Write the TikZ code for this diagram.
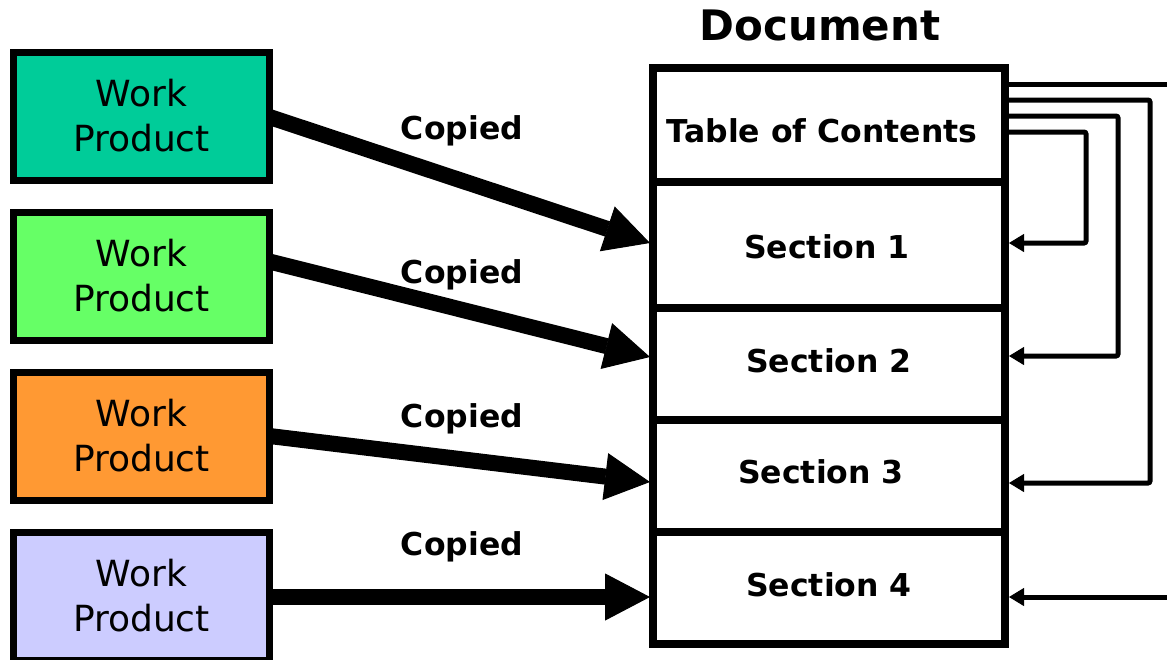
\documentclass[tikz,border=0pt]{standalone}
\usepackage{fontspec}
\setmainfont{DejaVu Sans}
\usetikzlibrary{arrows.meta,calc}
\definecolor{wpA}{RGB}{0,204,153}
\definecolor{wpB}{RGB}{102,255,102}
\definecolor{wpC}{RGB}{255,153,51}
\definecolor{wpD}{RGB}{204,204,255}
\begin{document}
\begin{tikzpicture}[x=1pt,y=-1pt,
  wpbox/.style={draw=black, line width=7pt, outer sep=0pt, minimum width=256pt, minimum height=128pt, inner sep=0pt, align=center, font=\fontsize{36}{45}\selectfont},
  docbox/.style={draw=black, line width=8pt, outer sep=0pt, minimum width=352pt, inner sep=0pt},
  copyarrow/.style={line width=16pt, -{Triangle[length=45pt,width=47pt,line width=1pt]}},
  lbl/.style={font=\bfseries\fontsize{31.5}{36}\selectfont},
  linkline/.style={line width=5pt},
  linkarrow/.style={linkline, rounded corners=2pt, -{Triangle[length=15pt,width=18pt,line width=1pt]}}
]
\useasboundingbox (0,0) rectangle (1167,659);
% work products
\node[wpbox, fill=wpA] (wp1) at (141.5,116) {Work\\Product};
\node[wpbox, fill=wpB] (wp2) at (141.5,276) {Work\\Product};
\node[wpbox, fill=wpC] (wp3) at (141.5,436) {Work\\Product};
\node[wpbox, fill=wpD] (wp4) at (141.5,596) {Work\\Product};
% document
\node[font=\bfseries\fontsize{42}{48}\selectfont] (doc) at (820,25) {Document};
\node[docbox, minimum height=114pt, label={[lbl, yshift=-6pt, xshift=-7pt]center:Table of Contents}] (toc) at (829,125) {};
\node[docbox, minimum height=126pt, label={[lbl, yshift=-2pt, xshift=-2pt]center:Section 1}] (s1) at (829,245) {};
\node[docbox, minimum height=112pt, label={[lbl, yshift=3pt]center:Section 2}] (s2) at (829,364) {};
\node[docbox, minimum height=112pt, label={[lbl, yshift=4pt, xshift=-8pt]center:Section 3}] (s3) at (829,476) {};
\node[docbox, minimum height=112pt, label={[lbl, yshift=3pt]center:Section 4}] (s4) at (829,588) {};
% labels
\node[lbl] (c1) at (462,131) {Copied};
\node[lbl] (c2) at (462,275) {Copied};
\node[lbl] (c3) at (462,419) {Copied};
\node[lbl] (c4) at (462,547) {Copied};
% copy arrows
\draw[copyarrow] ($(wp1.east)+(0,1)$) -- ($(s1.west)+(-3,-2)$);
\draw[copyarrow] ($(wp2.east)+(0,-14.5)$) -- ($(s2.west)+(-3,-7)$);
\draw[copyarrow] ($(wp3.east)+(0,0)$) -- ($(s3.west)+(-3,6)$);
\draw[copyarrow] ($(wp4.east)+(0,1)$) -- ($(s4.west)+(-3,9)$);
% links
\coordinate (r0) at (1167,84);
\coordinate (r4) at (1167,597);
\draw[linkline] ($(toc.north east)+(0,16)$) -- (r0);
\draw[linkarrow] ($(toc.north east)+(0,32)$) -- ++(145,0) |- ($(s3.east)+(4,7)$);
\draw[linkarrow] ($(toc.north east)+(0,48)$) -- ++(113,0) |- ($(s2.east)+(4,-8)$);
\draw[linkarrow] ($(toc.north east)+(0,64)$) -- ++(81,0) |- ($(s1.east)+(4,-2)$);
\draw[linkarrow] (r4) -- ($(s4.east)+(4,9)$);
\end{tikzpicture}
\end{document}
